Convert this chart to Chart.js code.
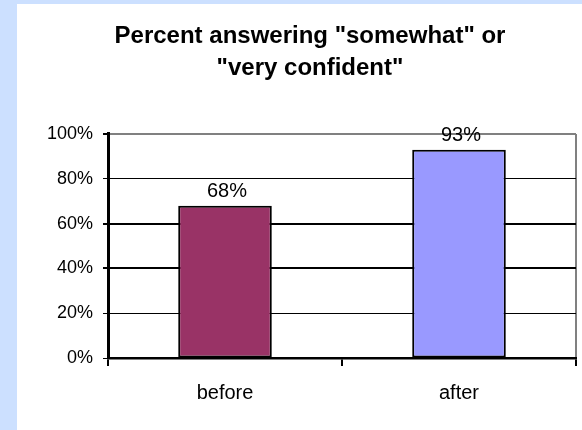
<!DOCTYPE html>
<html>
<head>
  <title>Percent answering somewhat or very confident</title>
  <script src="https://cdn.jsdelivr.net/npm/chart.js"></script>
  <style>
    body { margin: 0; overflow: hidden; background: #cce0ff; }
    canvas { display: block; }
  </style>
</head>
<body>
  <canvas id="chart" width="582" height="430"></canvas>
  <script>
    var categories = ['before', 'after'];
    var percents = [68, 93];
    var barColors = ['#993366', '#9999ff'];
    var yTicks = [0, 20, 40, 60, 80, 100];
    var titleLines = ['Percent answering "somewhat" or', '"very confident"'];

    var fontFamily = '"Liberation Sans", Arial, sans-serif';

    // blue frame with the white panel, like the slide behind the chart
    var panelPlugin = {
      id: 'panel',
      beforeDraw: function(chart) {
        var ctx = chart.ctx;
        ctx.save();
        ctx.fillStyle = '#cce0ff';
        ctx.fillRect(0, 0, chart.width, chart.height);
        ctx.fillStyle = '#ffffff';
        ctx.fillRect(17, 4, chart.width - 17, chart.height - 4);
        ctx.restore();
      }
    };

    // value labels above each bar
    var valueLabels = {
      id: 'valueLabels',
      afterDatasetsDraw: function(chart) {
        var ctx = chart.ctx;
        var meta = chart.getDatasetMeta(0);
        ctx.save();
        ctx.font = '20px ' + fontFamily;
        ctx.fillStyle = '#000';
        ctx.textAlign = 'center';
        ctx.textBaseline = 'alphabetic';
        meta.data.forEach(function(bar, i) {
          ctx.fillText(percents[i] + '%', bar.x + 2, bar.y - 9);
        });
        ctx.restore();
      }
    };

    function yGridWidth(ctx) {
      if (ctx.tick && (ctx.tick.value === 40 || ctx.tick.value === 60)) return 2;
      if (ctx.tick && ctx.tick.value === 100) return 2;
      return 1;
    }

    new Chart(document.getElementById('chart').getContext('2d'), {
      type: 'bar',
      data: {
        labels: categories,
        datasets: [{
          data: percents,
          backgroundColor: barColors,
          borderColor: '#000',
          borderWidth: 2,
          borderSkipped: false,
          barPercentage: 0.4,
          categoryPercentage: 1
        }]
      },
      options: {
        responsive: false,
        animation: false,
        layout: { padding: { left: 44, right: 6, top: 0, bottom: 0 } },
        plugins: {
          legend: { display: false },
          tooltip: { enabled: false },
          title: {
            display: true,
            text: titleLines,
            color: '#000',
            font: { family: fontFamily, size: 24, weight: 'bold', lineHeight: 1.333 },
            padding: { top: 20, bottom: 50 }
          }
        },
        scales: {
          x: {
            afterFit: function(scale) { scale.height = 72; },
            grid: {
              offset: true,
              drawOnChartArea: true,
              color: function(ctx) { return ctx.type === 'scale' ? '#808080' : 'rgba(0,0,0,0)'; },
              lineWidth: 2,
              tickColor: '#000',
              tickLength: 8
            },
            border: { color: '#000', width: 2.5 },
            ticks: {
              color: '#000',
              padding: 15,
              font: { family: fontFamily, size: 20 }
            }
          },
          y: {
            min: 0,
            max: 100,
            afterFit: function(scale) { scale.width = 64; },
            afterBuildTicks: function(scale) {
              scale.ticks = yTicks.map(function(v) { return { value: v }; });
            },
            grid: {
              color: function(ctx) { return ctx.tick && ctx.tick.value === 100 ? '#808080' : '#000'; },
              lineWidth: yGridWidth,
              tickColor: '#000',
              tickLength: 5
            },
            border: { color: '#000', width: 3 },
            ticks: {
              color: '#000',
              padding: 10,
              font: { family: fontFamily, size: 18 },
              callback: function(v) { return v + '%'; }
            }
          }
        }
      },
      plugins: [panelPlugin, valueLabels]
    });
  </script>
</body>
</html>
